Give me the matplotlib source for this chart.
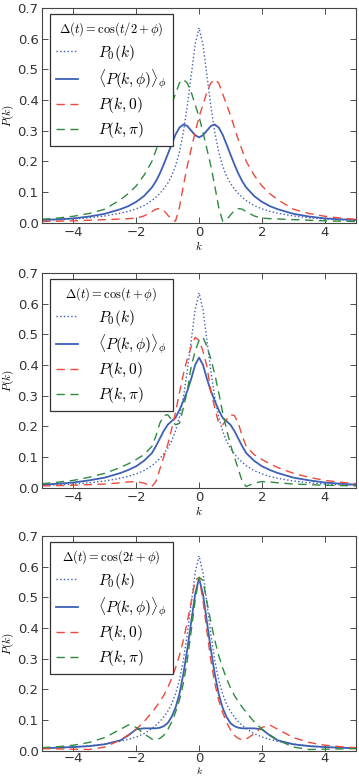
import matplotlib
matplotlib.use("Agg")
import matplotlib.pyplot as plt
from matplotlib.ticker import FormatStrFormatter

plt.rcParams['mathtext.fontset'] = 'cm'
plt.rcParams['font.family'] = 'DejaVu Sans'

# common k grid
k = [-5, -4.5, -4, -3.5, -3, -2.5, -2.25, -2, -1.75,
     -1.5, -1.375, -1.25, -1.125, -1, -0.875, -0.75, -0.625, -0.5, -0.375, -0.25, -0.125,
     0, 0.125, 0.25, 0.375, 0.5, 0.625, 0.75, 0.875, 1, 1.125, 1.25, 1.375, 1.5,
     1.75, 2, 2.25, 2.5, 3, 3.5, 4, 4.5, 5]

# free spectrum (same in all panels)
p0 = [0.0075, 0.0095, 0.012, 0.016, 0.022, 0.031, 0.037, 0.045, 0.056,
      0.072, 0.083, 0.095, 0.11, 0.128, 0.152, 0.185, 0.23, 0.295, 0.38, 0.48, 0.58,
      0.635, 0.58, 0.48, 0.38, 0.295, 0.23, 0.185, 0.152, 0.128, 0.11, 0.095, 0.083, 0.072,
      0.056, 0.045, 0.037, 0.031, 0.022, 0.016, 0.012, 0.0095, 0.0075]

# panel 1: cos(t/2 + phi)
avg1 = [0.009, 0.011, 0.014, 0.02, 0.029, 0.044, 0.054, 0.068, 0.087,
        0.115, 0.135, 0.16, 0.19, 0.222, 0.255, 0.287, 0.31, 0.32, 0.315, 0.30, 0.285,
        0.278, 0.285, 0.30, 0.315, 0.32, 0.31, 0.287, 0.255, 0.222, 0.19, 0.16, 0.135, 0.115,
        0.087, 0.068, 0.054, 0.044, 0.029, 0.02, 0.014, 0.011, 0.009]
red1 = [0.004, 0.005, 0.006, 0.008, 0.01, 0.012, 0.013, 0.015, 0.022,
        0.036, 0.044, 0.046, 0.04, 0.025, 0.01, 0.005, 0.05, 0.12, 0.185, 0.24, 0.295,
        0.345, 0.385, 0.425, 0.455, 0.467, 0.455, 0.42, 0.385, 0.35, 0.31, 0.27, 0.235, 0.2,
        0.155, 0.12, 0.095, 0.075, 0.044, 0.03, 0.021, 0.015, 0.011]
green1 = [0.011, 0.015, 0.021, 0.03, 0.044, 0.075, 0.095, 0.12, 0.155,
          0.2, 0.235, 0.27, 0.31, 0.35, 0.385, 0.42, 0.455, 0.467, 0.455, 0.425, 0.385,
          0.345, 0.295, 0.24, 0.185, 0.12, 0.05, 0.005, 0.01, 0.025, 0.04, 0.046, 0.044, 0.036,
          0.022, 0.015, 0.013, 0.012, 0.01, 0.008, 0.006, 0.005, 0.004]

# panel 2: cos(t + phi)
avg2 = [0.01, 0.013, 0.017, 0.024, 0.033, 0.048, 0.058, 0.07, 0.088,
        0.113, 0.135, 0.16, 0.185, 0.205, 0.217, 0.228, 0.253, 0.283, 0.315, 0.355, 0.40,
        0.424, 0.40, 0.355, 0.315, 0.283, 0.253, 0.228, 0.217, 0.205, 0.185, 0.16, 0.135, 0.113,
        0.088, 0.07, 0.058, 0.048, 0.033, 0.024, 0.017, 0.013, 0.01]
red2 = [0.006, 0.007, 0.008, 0.01, 0.012, 0.016, 0.019, 0.02, 0.015,
        0.004, 0.02, 0.06, 0.1, 0.14, 0.19, 0.245, 0.31, 0.37, 0.42, 0.46, 0.49,
        0.48, 0.445, 0.395, 0.315, 0.26, 0.21, 0.205, 0.222, 0.238, 0.235, 0.21, 0.168, 0.135,
        0.108, 0.092, 0.078, 0.066, 0.047, 0.034, 0.024, 0.018, 0.013]
green2 = [0.013, 0.018, 0.024, 0.034, 0.047, 0.066, 0.078, 0.092, 0.108,
          0.135, 0.168, 0.21, 0.235, 0.238, 0.222, 0.205, 0.21, 0.26, 0.315, 0.395, 0.445,
          0.48, 0.49, 0.46, 0.42, 0.37, 0.31, 0.245, 0.19, 0.14, 0.1, 0.06, 0.02, 0.004,
          0.015, 0.02, 0.019, 0.016, 0.012, 0.01, 0.008, 0.007, 0.006]

# panel 3: cos(2t + phi)
avg3 = [0.008, 0.01, 0.012, 0.015, 0.021, 0.034, 0.05, 0.07, 0.073,
        0.073, 0.073, 0.075, 0.08, 0.09, 0.11, 0.14, 0.185, 0.25, 0.33, 0.42, 0.51,
        0.562, 0.51, 0.42, 0.33, 0.25, 0.185, 0.14, 0.11, 0.09, 0.08, 0.075, 0.073, 0.073,
        0.073, 0.07, 0.05, 0.034, 0.021, 0.015, 0.012, 0.01, 0.008]
red3 = [0.007, 0.006, 0.005, 0.004, 0.012, 0.035, 0.052, 0.07, 0.095,
        0.125, 0.142, 0.16, 0.18, 0.205, 0.235, 0.27, 0.31, 0.36, 0.42, 0.485, 0.555,
        0.565, 0.49, 0.39, 0.295, 0.22, 0.165, 0.125, 0.093, 0.068, 0.05, 0.04, 0.036, 0.038,
        0.055, 0.076, 0.084, 0.07, 0.043, 0.027, 0.018, 0.013, 0.01]
green3 = [0.01, 0.013, 0.018, 0.027, 0.043, 0.07, 0.084, 0.076, 0.055,
          0.038, 0.036, 0.04, 0.05, 0.068, 0.093, 0.125, 0.165, 0.22, 0.295, 0.39, 0.49,
          0.565, 0.555, 0.485, 0.42, 0.36, 0.31, 0.27, 0.235, 0.205, 0.18, 0.16, 0.142, 0.125,
          0.095, 0.07, 0.052, 0.035, 0.012, 0.004, 0.005, 0.006, 0.007]

titles = [r'$\Delta(t) = \cos(t/2+\phi)$',
          r'$\Delta(t) = \cos(t+\phi)$',
          r'$\Delta(t) = \cos(2t+\phi)$']
avgs = [avg1, avg2, avg3]
reds = [red1, red2, red3]
greens = [green1, green2, green3]

blue = '#3d60b5'
red = '#ec4a3c'
green = '#2f8a40'

fig = plt.figure(figsize=(3.59, 7.77), dpi=100)
bottoms = [0.7134, 0.3723, 0.0338]

for i in range(3):
    ax = fig.add_axes([0.117, bottoms[i], 0.875, 0.2765])
    ax.plot(k, p0, ':', color=blue, lw=1.0, label=r'$P_0(k)$')
    ax.plot(k, avgs[i], '-', color=blue, lw=1.3, label=r'$\langle P(k,\phi)\rangle_\phi$')
    ax.plot(k, reds[i], '--', color=red, lw=1.0, dashes=(6, 4), label=r'$P(k,0)$')
    ax.plot(k, greens[i], '--', color=green, lw=1.0, dashes=(6, 4), label=r'$P(k,\pi)$')
    ax.set_xlim(-5, 5)
    ax.set_ylim(0, 0.7)
    ax.set_xticks([-4, -2, 0, 2, 4])
    ax.set_yticks([0, 0.1, 0.2, 0.3, 0.4, 0.5, 0.6, 0.7])
    ax.yaxis.set_major_formatter(FormatStrFormatter('%.1f'))
    ax.tick_params(direction='in', top=True, right=True, labelsize=9.5,
                   colors='#333333', length=4, width=0.6, pad=2.5)
    if i == 2:
        ax.tick_params(axis='x', pad=1.0)
    for s in ax.spines.values():
        s.set_color('#444444')
        s.set_linewidth(0.8)
    if i < 2:
        ax.set_xlabel(r'$k$', fontsize=8, labelpad=0)
    else:
        ax.set_xlabel(r'$k$', fontsize=7, labelpad=0)
    ax.set_ylabel(r'$P(k)$', fontsize=8, labelpad=1)
    leg = ax.legend(title=titles[i], loc='upper left', bbox_to_anchor=(0.0255, 0.972),
                    fontsize=11, title_fontsize=9, handlelength=1.4,
                    handletextpad=1.3, labelspacing=0.3, borderpad=0.42,
                    borderaxespad=0, fancybox=False, framealpha=1)
    leg.get_frame().set_edgecolor('#333333')
    leg.get_frame().set_linewidth(0.9)

fig.savefig('out.png', dpi=100)
